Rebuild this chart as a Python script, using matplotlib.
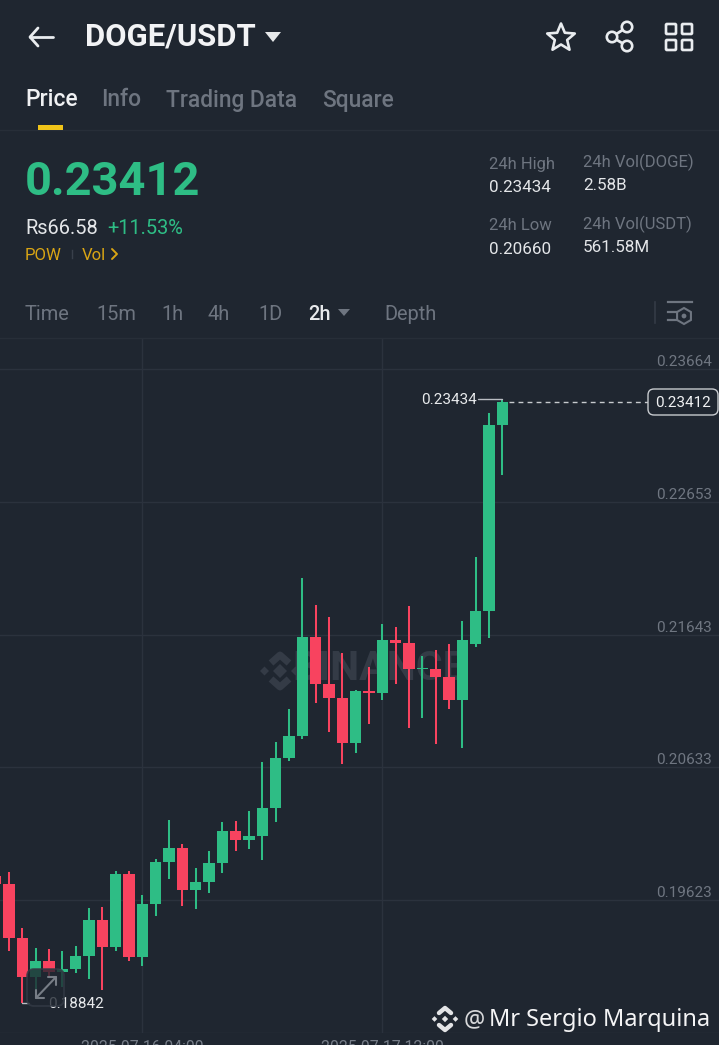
import matplotlib
matplotlib.use("Agg")
import matplotlib.pyplot as plt
import numpy as np
from matplotlib.patches import FancyBboxPatch, Polygon, Rectangle, Circle
from matplotlib.transforms import ScaledTranslation

opens = [0.19808,0.19747,0.19333,0.19038,0.19157,0.19078,0.19099,0.19200,0.19471,0.19271,0.19826,0.19190,0.19593,0.19917,0.20019,0.19702,0.19765,0.19909,0.20148,0.20080,0.20110,0.20325,0.20708,0.20875,0.21624,0.21271,0.21164,0.20820,0.21213,0.21200,0.21603,0.21580,0.21380,0.21380,0.21319,0.21145,0.21573,0.21824,0.23238]
highs = [0.19841,0.19841,0.19410,0.19258,0.19253,0.19240,0.19276,0.19563,0.19575,0.19849,0.19846,0.19661,0.19935,0.20234,0.20052,0.19867,0.20001,0.20217,0.20227,0.20305,0.20675,0.20830,0.21076,0.22072,0.21869,0.21780,0.21506,0.21223,0.21400,0.21722,0.21700,0.21864,0.21481,0.21525,0.21573,0.21750,0.22234,0.23332,0.23434]
lows  = [0.19747,0.19233,0.18842,0.18941,0.19040,0.18964,0.19073,0.19023,0.18941,0.19238,0.19162,0.19124,0.19504,0.19783,0.19580,0.19555,0.19681,0.19833,0.19998,0.20014,0.19928,0.20221,0.20683,0.20850,0.21122,0.20901,0.20660,0.20741,0.20964,0.21147,0.21268,0.20936,0.21008,0.20812,0.21081,0.20779,0.21552,0.21621,0.22856]
closes= [0.19747,0.19333,0.19038,0.19157,0.19078,0.19099,0.19200,0.19471,0.19271,0.19826,0.19190,0.19593,0.19917,0.20019,0.19702,0.19765,0.19909,0.20148,0.20080,0.20110,0.20325,0.20708,0.20875,0.21624,0.21271,0.21164,0.20820,0.21213,0.21200,0.21603,0.21580,0.21380,0.21390,0.21319,0.21145,0.21603,0.21824,0.23238,0.23412]
price_ticks = [0.23664, 0.22653, 0.21643, 0.20633, 0.19623, 0.18613]
price_labels = ["0.23664", "0.22653", "0.21643", "0.20633", "0.19623", ""]
date_ticks = [11, 29]
date_labels = ["2025-07-16 04:00", "2025-07-17 12:00"]
tabs = ["Price", "Info", "Trading Data", "Square"]
intervals = ["Time", "15m", "1h", "4h", "1D", "2h", "Depth"]

BG = "#1f2630"; GRID = "#2b323d"; UP = "#2ebd85"; DOWN = "#f8435f"
W, H = 719, 1045
FONT = "Roboto"
plt.rcParams["font.family"] = [FONT, "DejaVu Sans"]

def pt(px):
    return px * 72 / 100

fig = plt.figure(figsize=(W / 100, H / 100), dpi=100, facecolor=BG)

# Chart axes: y pixels 338..1033, candle 0 sits at x = -4.3 px, 13.33 px per candle
top, bottom = 338, 1033
ax = fig.add_axes([0, 1 - bottom / H, 1, (bottom - top) / H], facecolor=BG)
step = 13.333
ax.set_xlim(4.3 / step, (W + 4.3) / step)
ax.set_ylim(0.18614, 0.23900)
for s in ax.spines.values():
    s.set_visible(False)

ax.set_yticks(price_ticks, price_labels)
ax.set_xticks(date_ticks, date_labels)
ax.yaxis.tick_right()
ax.grid(True, color=GRID, lw=1)
ax.set_axisbelow(True)
ax.tick_params(axis="y", length=0, pad=-5, labelsize=pt(15.2), labelcolor="#6f7681")
ax.tick_params(axis="x", length=0, pad=5, labelsize=pt(15.8), labelcolor="#767d88")
for lab in ax.get_yticklabels():
    lab.set_ha("right")
    lab.set_va("center")
    lab.set_transform(lab.get_transform() + ScaledTranslation(0, 7 / 100, fig.dpi_scale_trans))

idx = np.arange(len(opens))
o, h, l, c = map(np.array, (opens, highs, lows, closes))
cols = [UP if ci >= oi else DOWN for oi, ci in zip(o, c)]
ax.vlines(idx, l, h, colors=cols, lw=1.45, zorder=3)
ax.bar(idx, np.maximum(np.abs(c - o), 0.00012), bottom=np.minimum(o, c), width=0.87,
       color=cols, edgecolor="none", zorder=4)

# Overlay in pixel coordinates for the app chrome
ov = fig.add_axes([0, 0, 1, 1], facecolor="none")
ov.set_xlim(0, W)
ov.set_ylim(H, 0)
ov.axis("off")

# Watermark, behind the candles
WM = "#343b46"
ax.text(28.8, 0.21385, "BINANCE", color=WM, fontsize=pt(41), fontweight="bold",
        ha="center", va="center", zorder=2.5)
for cx, cy, r in [(280, 671, 7), (264.5, 671, 4.5), (295.5, 671, 4.5)]:
    ax.add_patch(Polygon([[cx - r, cy], [cx, cy - r], [cx + r, cy], [cx, cy + r]], closed=True, fc=WM, ec="none",
                         transform=ov.transData, zorder=2.5))
ax.plot([271, 280, 289], [663, 655, 663], color=WM, lw=5, transform=ov.transData, zorder=2.5, solid_capstyle="butt")
ax.plot([271, 280, 289], [679, 687, 679], color=WM, lw=5, transform=ov.transData, zorder=2.5, solid_capstyle="butt")

def T(x, y, s, size, color, weight="normal", ha="left", va="center", family=None, z=10):
    return ov.text(x, y, s, fontsize=pt(size), color=color, fontweight=weight, ha=ha, va=va,
                   family=family or [FONT, "DejaVu Sans"], zorder=z)

def L(xs, ys, color="#e9ecef", lw=2.0, z=10, **kw):
    ov.plot(xs, ys, color=color, lw=lw, zorder=z, solid_capstyle="round", solid_joinstyle="round", **kw)

# Header
L([30, 53], [37, 37]); L([38, 30, 38], [28, 37, 46])
T(85, 37, "DOGE/USDT", 31, "#f2f3f5", "bold")
ov.add_patch(Polygon([[265, 32], [281, 32], [273, 42]], closed=True, fc="#e6e8ea", ec="none", zorder=10))
# star
ang = np.deg2rad(np.arange(-90, 270, 36))
rad = np.where(np.arange(10) % 2 == 0, 14.5, 6.5)
ov.add_patch(Polygon(np.c_[561 + rad * np.cos(ang), 38 + rad * np.sin(ang)], closed=True, fc="none",
                     ec="#e9ecef", lw=1.9, joinstyle="round", zorder=10))
# share
L([612, 627], [37, 27]); L([612, 627], [37, 46])
for cx, cy in [(612, 37), (627, 27), (627, 46)]:
    ov.add_patch(Circle((cx, cy), 5.2, fc=BG, ec="#e9ecef", lw=1.9, zorder=11))
# grid icon
for gx, gy in [(665, 23), (681, 23), (665, 39), (681, 39)]:
    ov.add_patch(FancyBboxPatch((gx + 1, gy + 1), 10, 10, boxstyle="round,pad=0,rounding_size=1", fc="none",
                                ec="#e9ecef", lw=1.9, zorder=10))

# Tabs
for x, s, col in zip([25, 101, 166, 322], tabs, ["#f0f1f3", "#6e7580", "#6e7580", "#6e7580"]):
    T(x, 100, s, 22.8, col, "medium")
ov.add_patch(Rectangle((38, 125), 25, 5, fc="#f0c419", ec="none", zorder=10))
ov.plot([0, W], [130, 130], color="#272e38", lw=1, zorder=1)

# Price block
T(25, 182, "0.23412", 47, UP, "bold")
T(25, 228, "Rs66.58", 20, "#e4e6e9")
T(107, 228, "+11.53%", 20, UP)
T(25, 255, "POW", 16.8, "#d9a514")
ov.plot([72, 72], [250, 258], color="#39404b", lw=1, zorder=10)
T(82, 255, "Vol", 16.8, "#d9a514")
L([112, 117, 112], [249, 254, 259], color="#d9a514", lw=1.4)

T(489, 164, "24h High", 16.6, "#6e7580")
T(489, 188, "0.23434", 17, "#e4e6e9")
T(489, 226, "24h Low", 16.6, "#6e7580")
T(489, 249, "0.20660", 17, "#e4e6e9")
T(583, 162, "24h Vol(DOGE)", 16.6, "#6e7580")
T(583, 186, "2.58B", 17, "#e4e6e9")
T(583, 224, "24h Vol(USDT)", 16.6, "#6e7580")
T(583, 247, "561.58M", 17, "#e4e6e9")

# Interval row
for x, s in zip([25, 96, 161, 208, 258, 308, 384], intervals):
    act = s == "2h"
    T(x, 314, s, 20, "#e8eaec" if act else "#6e7580", "medium" if act else "normal")
ov.add_patch(Polygon([[338, 309], [350, 309], [344, 316]], closed=True, fc="#6e7580", ec="none", zorder=10))
ov.plot([655, 655], [302, 323], color="#343b46", lw=1.2, zorder=10)
ov.plot([668, 692], [302, 302], color="#6e7580", lw=1.6, zorder=10)
ov.plot([668, 676], [312, 312], color="#6e7580", lw=1.6, zorder=10)
ov.plot([668, 676], [320, 320], color="#6e7580", lw=1.6, zorder=10)
hx = np.deg2rad(np.arange(30, 390, 60))
ov.add_patch(Polygon(np.c_[684 + 8 * np.cos(hx), 316 + 8 * np.sin(hx)], closed=True, fc="none", ec="#6e7580",
                     lw=1.5, zorder=10))
ov.add_patch(Circle((684, 316), 2.4, fc="#6e7580", ec="none", zorder=10))
ov.plot([0, W], [338, 338], color="#272e38", lw=1, zorder=1)

# Highest marker
T(477, 400, "0.23434", 15.2, "#e8eaec", ha="right", z=6)
L([478, 502], [399.3, 399.3], color="#b9bdc3", lw=1, z=6)
# Lowest marker, partly veiled by the fullscreen button
T(48, 1004, "0.18842", 15.2, "#e8eaec", z=6)
L([22, 29], [1003, 1003], color="#b9bdc3", lw=1, z=6)

# Last price line and tag
ax.axhline(0.23412, xmin=509 / W, xmax=648 / W, color="#c7cace", lw=1, dashes=(3.5, 3), zorder=5)
ov.add_patch(FancyBboxPatch((648, 389), 70, 26, boxstyle="round,pad=0,rounding_size=6", fc=BG, ec="#c7cace",
                            lw=1, zorder=9))
T(683, 403, "0.23412", 15.2, "#f0f1f3", ha="center")

# Fullscreen button over the low candles
ov.add_patch(FancyBboxPatch((27, 969), 37, 37, boxstyle="round,pad=0,rounding_size=7", fc=BG, alpha=0.78,
                            ec="#343b46", lw=1.3, zorder=7))
L([36, 56], [998, 977], color="#777d86", lw=1.5, z=8)
L([36, 36, 44], [990, 998, 998], color="#777d86", lw=1.5, z=8)
L([48, 56, 56], [977, 977, 985], color="#777d86", lw=1.5, z=8)

# Footer credit
dc = "#e3e4e6"
for cx, cy, r in [(434.5, 1019, 2.8), (455.5, 1019, 2.8), (445, 1019, 3.2)]:
    ov.add_patch(Polygon([[cx - r, cy], [cx, cy - r], [cx + r, cy], [cx, cy + r]], closed=True, fc=dc, ec="none", zorder=12))
L([439, 445, 451], [1013, 1008, 1013], color=dc, lw=3.2, z=12)
L([439, 445, 451], [1025, 1030, 1025], color=dc, lw=3.2, z=12)
T(464, 1020, "@", 23.6, "#d8d9db", family=["Noto Sans"], z=12)
T(489, 1020, "Mr Sergio Marquina", 23.6, "#f4f4f5", family=["Noto Sans"], z=12)

fig.savefig("out.png", dpi=100, facecolor=BG)
